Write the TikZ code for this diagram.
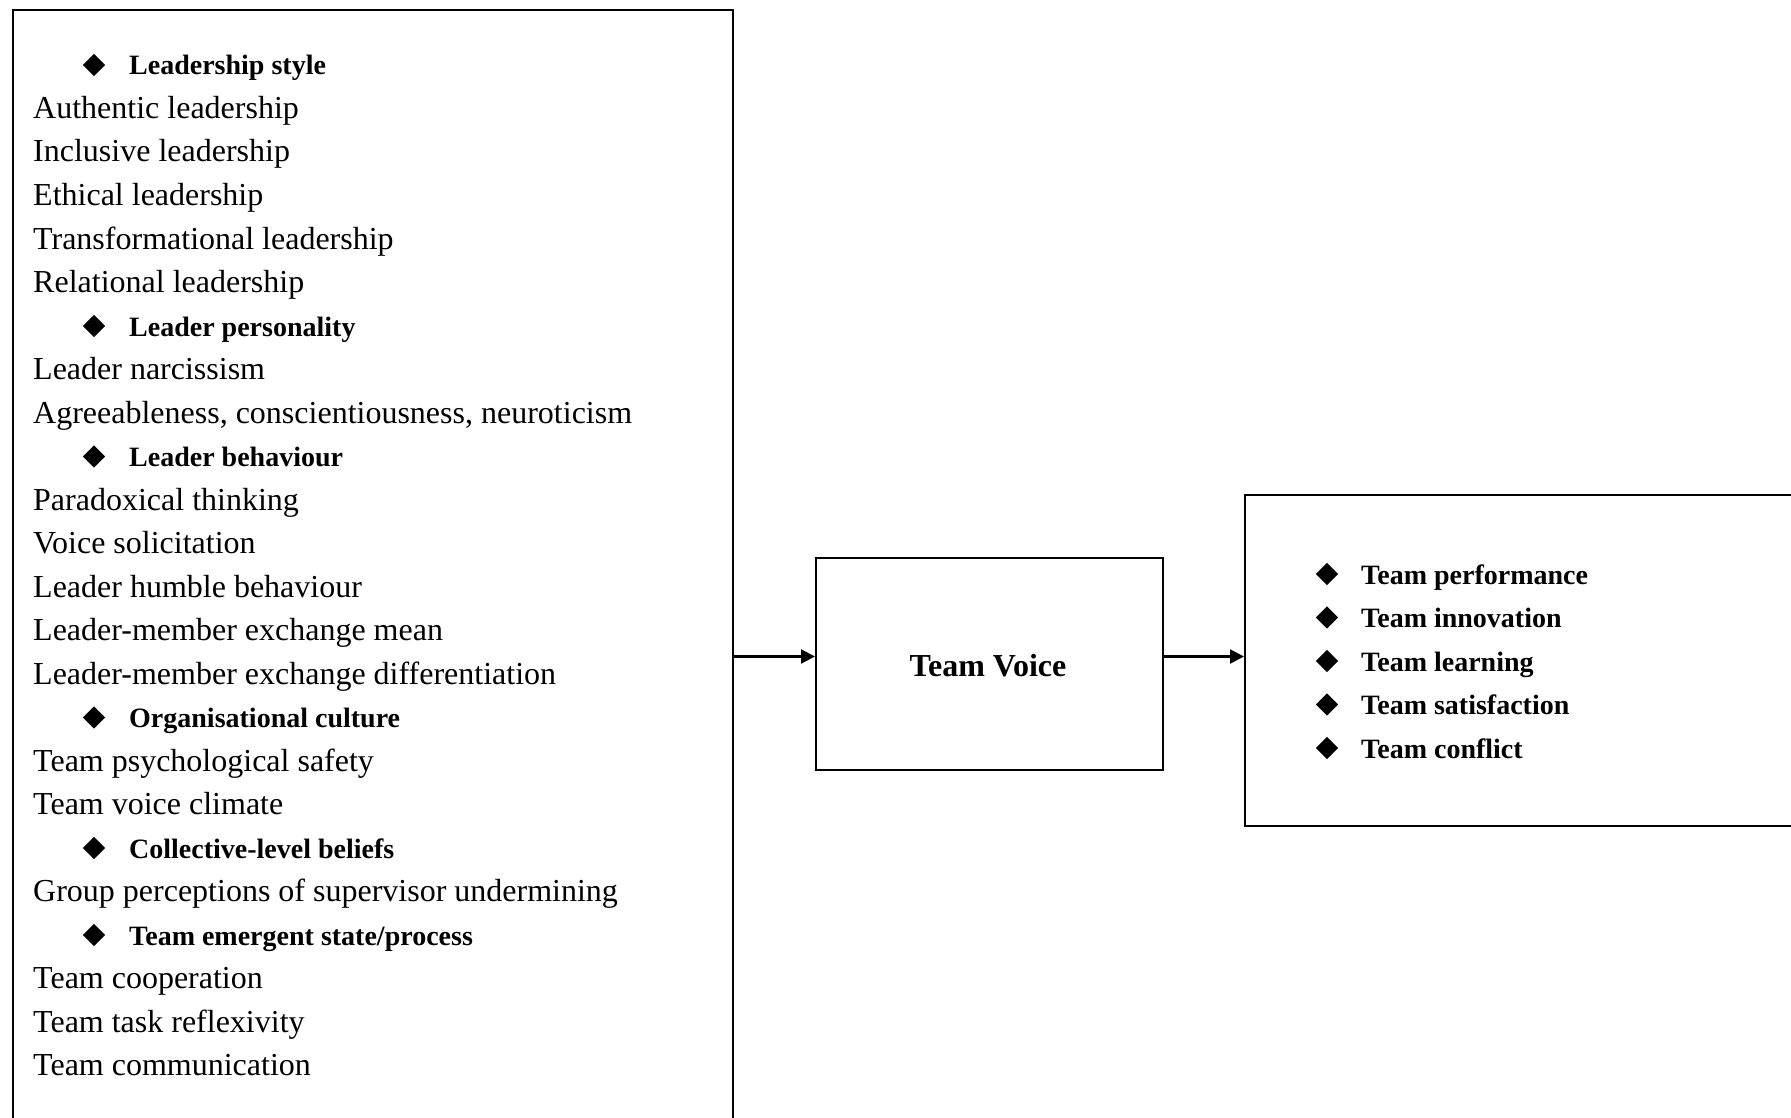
\documentclass[tikz,border=0pt]{standalone}
\usepackage{fontspec}
\setmainfont{Liberation Serif}
\usetikzlibrary{shapes.geometric,arrows.meta}

\tikzset{
  frame/.style={draw=black, line width=2.4pt, rectangle, inner sep=0pt, anchor=north west},
  bullet/.style={diamond, fill=black, draw=none, inner sep=0pt, minimum width=22.5pt, minimum height=22.5pt},
  itemtext/.style={anchor=base west, inner sep=0pt, font=\fontsize{32}{38}\selectfont},
  headtext/.style={anchor=base west, inner sep=0pt, font=\fontsize{28}{34}\selectfont\bfseries},
  flow/.style={line width=2.2pt, -{Triangle[length=14pt,width=14pt]}}
}

\begin{document}
\begin{tikzpicture}[x=1pt, y=-1pt]
\useasboundingbox (0,0) rectangle (1791,1118);
\clip (0,0) rectangle (1791,1118);

% antecedents box (runs past the lower edge)
\node[frame, minimum width=719.5pt, minimum height=1200pt] (ante) at (12,9) {};
% mediator
\node[frame, minimum width=346.7pt, minimum height=212pt] (tv) at (815,557) {};
\node[anchor=base, inner sep=0pt, font=\fontsize{32}{38}\selectfont\bfseries] (tvlabel) at (988,676) {Team Voice};
% outcomes box (runs past the right edge)
\node[frame, minimum width=700pt, minimum height=331pt] (outc) at (1244,494) {};

% category headings in the antecedents box
\foreach \k/\t in {0/{Leadership style}, 6/{Leader personality}, 9/{Leader behaviour},
                   15/{Organisational culture}, 18/{Collective-level beliefs},
                   20/{Team emergent state/process}}{
  \node[bullet] (hb\k) at (94, 75+43.5*\k-10) {};
  \node[headtext] (h\k) at (129, 75+43.5*\k) {\t};
}

% antecedent variables
\foreach \k/\t in {1/Authentic leadership, 2/Inclusive leadership, 3/Ethical leadership,
                   4/Transformational leadership, 5/Relational leadership,
                   7/Leader narcissism, 8/{Agreeableness, conscientiousness, neuroticism},
                   10/Paradoxical thinking, 11/Voice solicitation, 12/Leader humble behaviour,
                   13/Leader-member exchange mean, 14/Leader-member exchange differentiation,
                   16/Team psychological safety, 17/Team voice climate,
                   19/Group perceptions of supervisor undermining,
                   21/Team cooperation, 22/Team task reflexivity, 23/Team communication}{
  \node[itemtext] (v\k) at (33, 75+43.5*\k) {\t};
}

% outcomes
\foreach \t [count=\k from 0] in {Team performance, Team innovation, Team learning,
                                  Team satisfaction, Team conflict}{
  \node[bullet] (ob\k) at (1327, 584+43.5*\k-10) {};
  \node[headtext] (o\k) at (1361, 584+43.5*\k) {\t};
}

% connectors
\coordinate (flowline) at (0,656.5);
\draw[flow] (ante.east |- flowline) -- (tv.west |- flowline);
\draw[flow] (tv.east |- flowline) -- (outc.west |- flowline);
\end{tikzpicture}
\end{document}
